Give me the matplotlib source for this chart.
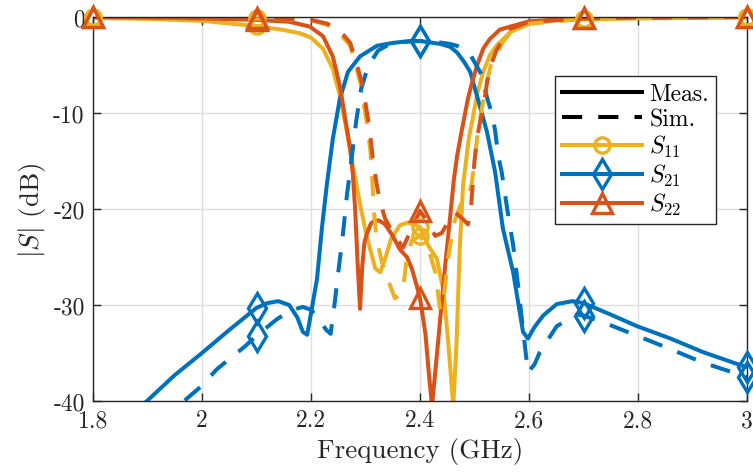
import matplotlib
matplotlib.use("Agg")
import matplotlib.pyplot as plt
from matplotlib.lines import Line2D
import numpy as np

plt.rcParams["font.family"] = "serif"
plt.rcParams["font.serif"] = ["cmr10"]
plt.rcParams["mathtext.fontset"] = "cm"
plt.rcParams["axes.unicode_minus"] = False

f_s11_meas = [1.80, 1.90, 2.00, 2.10, 2.15, 2.18, 2.20, 2.222, 2.240, 2.253, 2.266, 2.277, 2.290,
              2.302, 2.318, 2.327, 2.336, 2.347, 2.363, 2.378, 2.40, 2.415, 2.431, 2.443, 2.452,
              2.461, 2.467, 2.473, 2.479, 2.49, 2.497, 2.505, 2.516, 2.528, 2.54, 2.565, 2.60,
              2.65, 2.70, 2.80, 2.90, 3.00]
s11_meas = [-0.1, -0.2, -0.4, -0.95, -1.35, -1.7, -2.15, -3.3, -5.4, -8.2, -12.0, -15.5, -19.5,
            -22.8, -26.2, -26.6, -25.2, -23.1, -21.7, -21.4, -21.9, -23.8, -25.2, -28.5, -34.0,
            -40.5, -34.0, -24.0, -17.5, -12.5, -10.5, -8.0, -5.7, -4.0, -3.0, -1.6, -0.7,
            -0.35, -0.25, -0.15, -0.1, -0.05]

f_s11_sim = [1.80, 2.00, 2.10, 2.20, 2.23, 2.248, 2.26, 2.272, 2.283, 2.292, 2.298, 2.304, 2.309,
             2.313, 2.316, 2.32, 2.33, 2.342, 2.354, 2.362, 2.369, 2.376, 2.385, 2.40, 2.415,
             2.428, 2.437, 2.443, 2.452, 2.462, 2.475, 2.49, 2.495, 2.50, 2.505, 2.512, 2.52,
             2.53, 2.552, 2.57, 2.60, 2.70, 2.80, 3.00]
s11_sim = [-0.05, -0.05, -0.1, -0.35, -0.8, -1.6, -2.2, -3.0, -5.2, -7.2, -9.5, -11.5, -14.0,
           -17.5, -20.5, -23.0, -25.5, -27.5, -29.3, -29.0, -28.3, -25.0, -23.3, -22.8, -24.0,
           -26.6, -30.5, -29.5, -25.0, -21.5, -19.5, -18.5, -17.3, -15.0, -12.5, -10.0, -7.5,
           -5.0, -2.6, -1.4, -0.7, -0.2, -0.1, -0.05]

f_s21_meas = [1.80, 1.899, 1.95, 2.00, 2.05, 2.10, 2.12, 2.14, 2.16, 2.175, 2.185, 2.193, 2.202,
              2.211, 2.220, 2.229, 2.240, 2.253, 2.268, 2.290, 2.321, 2.35, 2.382, 2.40, 2.437,
              2.455, 2.468, 2.48, 2.492, 2.506, 2.523, 2.538, 2.552, 2.571, 2.589, 2.598, 2.61,
              2.626, 2.651, 2.68, 2.70, 2.75, 2.798, 2.86, 2.919, 3.00]
s21_meas = [-45.0, -40.0, -37.3, -35.0, -32.6, -30.3, -29.8, -29.6, -30.0, -31.3, -32.8, -33.1, -30.2,
            -27.3, -22.0, -17.5, -12.7, -8.5, -5.7, -4.1, -3.0, -2.7, -2.5, -2.5, -2.8,
            -3.1, -3.7, -4.6, -5.7, -8.5, -12.0, -16.2, -22.0, -26.6, -32.8, -33.5, -32.3,
            -31.1, -29.9, -29.6, -29.8, -31.0, -32.2, -33.5, -34.9, -36.5]

f_s21_sim = [1.80, 1.967, 2.00, 2.027, 2.079, 2.10, 2.137, 2.161, 2.185, 2.20, 2.215, 2.228, 2.236,
             2.243, 2.25, 2.259, 2.266, 2.274, 2.283, 2.292, 2.30, 2.313, 2.323, 2.345, 2.37,
             2.40, 2.43, 2.455, 2.468, 2.48, 2.492, 2.503, 2.514, 2.519, 2.525, 2.532, 2.538,
             2.543, 2.55, 2.56, 2.571, 2.58, 2.59, 2.598, 2.61, 2.62, 2.651, 2.688, 2.70,
             2.736, 2.798, 2.86, 2.919, 3.00]
s21_sim = [-46.0, -40.0, -38.4, -36.7, -34.3, -33.2, -31.5, -30.6, -30.2, -30.5, -31.5, -32.6, -33.0,
           -30.0, -26.6, -22.4, -18.5, -15.0, -10.8, -7.5, -6.0, -4.4, -3.5, -2.8, -2.6,
           -2.5, -2.6, -2.8, -3.0, -3.4, -3.9, -5.0, -6.1, -7.5, -8.8, -10.0, -11.9,
           -14.3, -16.2, -20.0, -23.8, -28.0, -33.0, -37.0, -36.2, -34.9, -32.2, -31.0, -31.1,
           -31.8, -33.2, -34.6, -36.0, -37.5]

f_s22_meas = [1.80, 1.90, 2.00, 2.10, 2.161, 2.198, 2.222, 2.240, 2.253, 2.262, 2.272, 2.277, 2.281,
              2.285, 2.29, 2.294, 2.298, 2.303, 2.31, 2.317, 2.325, 2.336, 2.35, 2.363, 2.376,
              2.385, 2.394, 2.40, 2.41, 2.416, 2.422, 2.428, 2.437, 2.446, 2.455, 2.462, 2.468,
              2.476, 2.488, 2.497, 2.505, 2.516, 2.528, 2.547, 2.60, 2.70, 2.80, 3.00]
s22_meas = [0.0, -0.05, -0.15, -0.3, -0.5, -1.0, -2.0, -4.1, -7.2, -10.3, -13.75, -16.5, -20.0,
            -25.0, -30.4, -26.0, -23.5, -22.5, -21.5, -21.2, -21.2, -21.6, -22.8, -24.2, -25.0,
            -26.2, -28.0, -29.3, -33.0, -37.0, -40.5, -37.0, -31.5, -26.0, -21.0, -17.0, -14.5,
            -12.0, -8.5, -6.5, -5.0, -3.3, -2.3, -1.3, -0.45, -0.1, -0.05, 0.0]

f_s22_sim = [1.80, 2.00, 2.10, 2.20, 2.23, 2.248, 2.26, 2.272, 2.284, 2.293, 2.30, 2.307, 2.314,
             2.321, 2.327, 2.336, 2.35, 2.369, 2.385, 2.40, 2.415, 2.428, 2.44, 2.455, 2.465,
             2.478, 2.488, 2.494, 2.50, 2.505, 2.51, 2.517, 2.523, 2.53, 2.54, 2.552, 2.565,
             2.60, 2.70, 2.80, 3.00]
s22_sim = [0.0, -0.05, -0.1, -0.3, -0.7, -1.4, -1.9, -2.7, -4.9, -6.8, -9.0, -11.5, -15.0,
           -17.6, -19.3, -21.0, -22.5, -24.0, -22.0, -20.2, -21.5, -22.8, -22.5, -21.0, -20.4,
           -21.0, -21.6, -19.5, -15.0, -12.5, -11.0, -9.2, -6.8, -5.0, -3.5, -2.3, -1.25,
           -0.5, -0.15, -0.05, 0.0]

marker_freqs = [1.8, 2.1, 2.4, 2.7, 3.0]
xticks = [1.8, 2.0, 2.2, 2.4, 2.6, 2.8, 3.0]
xtick_labels = ["1.8", "2", "2.2", "2.4", "2.6", "2.8", "3"]
yticks = [-40, -30, -20, -10, 0]
ytick_labels = ["-40", "-30", "-20", "-10", "0"]

c11 = "#EDB120"
c21 = "#0072BD"
c22 = "#D95319"
lw = 2.9
dash = (0, (5.0, 4.0))
mk = {"o": 11, "d": 15, "^": 15}

fig = plt.figure(figsize=(7.53, 4.77), dpi=100)
ax = fig.add_axes([93 / 753, 75 / 477, 654 / 753, 384 / 477])
ax.set_xlim(1.8, 3.0)
ax.set_ylim(-40, 0)


def curve(f, s, color, marker, ls):
    f = np.array(f)
    s = np.array(s)
    ax.plot(f, s, color=color, lw=lw, ls=ls, dash_capstyle="butt", solid_capstyle="butt")
    idx = [int(np.argmin(np.abs(f - m))) for m in marker_freqs]
    idx = [i for i in idx if s[i] >= -40]
    ax.plot(f[idx], s[idx], ls="none", marker=marker, ms=mk[marker], mfc="none",
            mec=color, mew=2.4, clip_on=False, zorder=3)


# measured first, simulated on top
curve(f_s11_meas, s11_meas, c11, "o", "-")
curve(f_s21_meas, s21_meas, c21, "d", "-")
curve(f_s22_meas, s22_meas, c22, "^", "-")
curve(f_s11_sim, s11_sim, c11, "o", dash)
curve(f_s21_sim, s21_sim, c21, "d", dash)
curve(f_s22_sim, s22_sim, c22, "^", dash)

ax.set_xticks(xticks, xtick_labels)
ax.set_yticks(yticks, ytick_labels)
ax.tick_params(direction="in", length=6, width=1, top=True, right=True,
               labelsize=17, colors="#262626", pad=6)
ax.grid(True, color="#dedede", lw=1)
ax.set_axisbelow(True)
for sp in ax.spines.values():
    sp.set_color("#262626")
    sp.set_linewidth(1)

ax.set_xlabel("Frequency (GHz)", fontsize=19.5, color="#262626", labelpad=4)
ax.set_ylabel(r"$|S|$ (dB)", fontsize=19.5, color="#262626", labelpad=4)

handles = [
    Line2D([], [], color="k", lw=lw),
    Line2D([], [], color="k", lw=lw, ls=dash, dash_capstyle="butt"),
    Line2D([], [], color=c11, lw=lw, marker="o", ms=mk["o"], mfc="none", mew=2.4),
    Line2D([], [], color=c21, lw=lw, marker="d", ms=mk["d"], mfc="none", mew=2.4),
    Line2D([], [], color=c22, lw=lw, marker="^", ms=mk["^"], mfc="none", mew=2.4),
]
labels = ["Meas.", "Sim.", r"$S_{11}$", r"$S_{21}$", r"$S_{22}$"]
leg = ax.legend(handles, labels, loc="upper left", bbox_to_anchor=(0.706, 0.846),
                borderaxespad=0, fontsize=17, handlelength=3.4, handletextpad=0.3,
                labelspacing=0.12, borderpad=0.3, fancybox=False, framealpha=1,
                edgecolor="#262626")
leg.get_frame().set_linewidth(1)

fig.savefig("out.png", dpi=100)
